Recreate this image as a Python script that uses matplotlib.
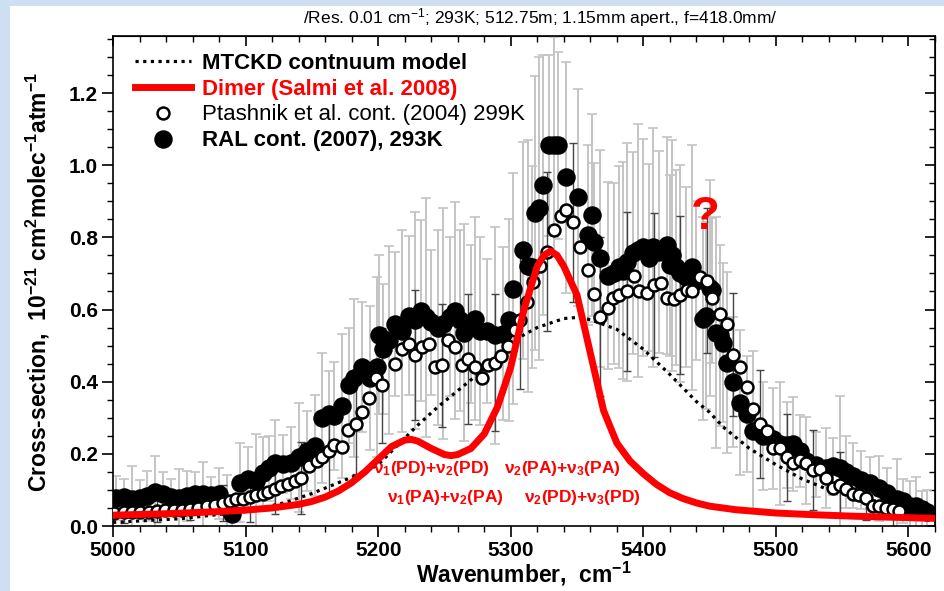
import matplotlib
matplotlib.use("Agg")
import matplotlib.pyplot as plt
from matplotlib.patches import Rectangle
from matplotlib.lines import Line2D
from matplotlib.ticker import MultipleLocator

plt.rcParams["font.family"] = ["Liberation Sans", "DejaVu Sans"]
plt.rcParams["mathtext.fontset"] = "custom"
plt.rcParams["mathtext.rm"] = "Liberation Sans"
plt.rcParams["mathtext.bf"] = "Liberation Sans:bold"
plt.rcParams["mathtext.it"] = "Liberation Sans:italic"

# MTCKD continuum model (dotted)
mtckd_wn = [5000, 5050, 5100, 5130, 5150, 5170, 5190, 5200, 5215, 5230, 5245,
            5260, 5280, 5300, 5320, 5340, 5350, 5360, 5380, 5400, 5420, 5440,
            5450, 5460, 5480, 5500, 5520, 5540, 5560, 5580, 5600, 5620]
mtckd_val = [0.010, 0.020, 0.040, 0.065, 0.090, 0.120, 0.150, 0.170, 0.225, 0.280, 0.330,
             0.375, 0.435, 0.510, 0.550, 0.575, 0.578, 0.572, 0.545, 0.490, 0.420, 0.345,
             0.315, 0.275, 0.215, 0.170, 0.130, 0.100, 0.080, 0.065, 0.050, 0.040]

# Dimer (Salmi et al. 2008)
dimer_wn = [5000, 5020, 5040, 5060, 5080, 5100, 5120, 5140, 5150, 5160, 5170, 5180,
            5190, 5200, 5210, 5220, 5225, 5230, 5240, 5250, 5255, 5260, 5270, 5280,
            5290, 5300, 5310, 5320, 5325, 5330, 5335, 5340, 5350, 5360, 5370, 5380,
            5390, 5400, 5410, 5420, 5430, 5440, 5450, 5470, 5500, 5530, 5560, 5590, 5620]
dimer_val = [0.030, 0.032, 0.034, 0.037, 0.040, 0.044, 0.050, 0.060, 0.068, 0.080, 0.097, 0.120,
             0.150, 0.185, 0.220, 0.238, 0.240, 0.235, 0.215, 0.198, 0.195, 0.198, 0.215, 0.255,
             0.330, 0.440, 0.600, 0.720, 0.750, 0.762, 0.750, 0.720, 0.640, 0.480, 0.320, 0.230,
             0.180, 0.145, 0.115, 0.092, 0.076, 0.064, 0.055, 0.045, 0.036, 0.031, 0.027, 0.024, 0.021]

# Ptashnik et al. (2004) 299K
pt_wn = [5001, 5008, 5014, 5020, 5027, 5033, 5039, 5046, 5052, 5058,
         5064, 5071, 5077, 5083, 5088, 5093, 5098, 5103, 5108, 5113,
         5117, 5122, 5127, 5132, 5137, 5142, 5148, 5154, 5158, 5163,
         5167, 5173, 5177, 5183, 5188, 5193, 5198, 5203, 5213, 5218,
         5223, 5228, 5233, 5238, 5243, 5248, 5253, 5258, 5263, 5268,
         5273, 5278, 5283, 5288, 5293, 5298, 5303, 5307, 5312, 5317,
         5322, 5327, 5333, 5338, 5342, 5347, 5352, 5358, 5363, 5367,
         5373, 5377, 5382, 5388, 5393, 5397, 5403, 5408, 5413, 5418,
         5423, 5428, 5433, 5437, 5443, 5448, 5452, 5458, 5463, 5468,
         5473, 5478, 5483, 5488, 5493, 5498, 5503, 5508, 5513, 5518,
         5523, 5528, 5533, 5538, 5543, 5548, 5553, 5558, 5563, 5568,
         5573, 5578, 5583, 5588, 5593]
pt_val = [0.036, 0.039, 0.040, 0.040, 0.040, 0.042, 0.043, 0.044, 0.045, 0.048,
          0.050, 0.055, 0.057, 0.063, 0.068, 0.075, 0.075, 0.080, 0.085, 0.088,
          0.095, 0.103, 0.110, 0.117, 0.125, 0.133, 0.167, 0.181, 0.190, 0.208,
          0.225, 0.220, 0.265, 0.283, 0.315, 0.355, 0.410, 0.390, 0.450, 0.490,
          0.505, 0.475, 0.495, 0.505, 0.440, 0.445, 0.516, 0.495, 0.445, 0.463,
          0.440, 0.410, 0.445, 0.452, 0.472, 0.500, 0.544, 0.570, 0.620, 0.675,
          0.720, 0.760, 0.820, 0.858, 0.877, 0.842, 0.772, 0.710, 0.644, 0.580,
          0.605, 0.633, 0.640, 0.650, 0.694, 0.650, 0.646, 0.667, 0.674, 0.633,
          0.630, 0.640, 0.655, 0.650, 0.690, 0.680, 0.633, 0.588, 0.560, 0.475,
          0.440, 0.386, 0.325, 0.283, 0.264, 0.217, 0.217, 0.190, 0.175, 0.183,
          0.175, 0.155, 0.158, 0.133, 0.106, 0.114, 0.102, 0.089, 0.086, 0.078,
          0.056, 0.056, 0.050, 0.047, 0.042]
pt_err = [0.03, 0.03, 0.04, 0.03, 0.04, 0.03, 0.04, 0.03, 0.04, 0.03,
          0.04, 0.04, 0.05, 0.05, 0.06, 0.05, 0.06, 0.07, 0.06, 0.07,
          0.08, 0.07, 0.08, 0.09, 0.08, 0.10, 0.09, 0.11, 0.10, 0.12,
          0.12, 0.13, 0.12, 0.14, 0.13, 0.15, 0.14, 0.16, 0.15, 0.17,
          0.16, 0.18, 0.17, 0.16, 0.18, 0.17, 0.19, 0.18, 0.17, 0.18,
          0.19, 0.18, 0.20, 0.19, 0.18, 0.20, 0.21, 0.19, 0.22, 0.20,
          0.21, 0.22, 0.20, 0.23, 0.21, 0.22, 0.20, 0.21, 0.19, 0.22,
          0.20, 0.21, 0.19, 0.22, 0.20, 0.21, 0.23, 0.20, 0.22, 0.21,
          0.20, 0.22, 0.21, 0.19, 0.22, 0.20, 0.21, 0.18, 0.20, 0.17,
          0.18, 0.16, 0.17, 0.15, 0.14, 0.13, 0.14, 0.12, 0.11, 0.12,
          0.10, 0.11, 0.09, 0.10, 0.08, 0.09, 0.08, 0.07, 0.08, 0.06,
          0.06, 0.05, 0.06, 0.05, 0.05]

# RAL (2007) 293K
ral_wn = [5002, 5008, 5014, 5020, 5026, 5032, 5038, 5044, 5050, 5056,
          5062, 5068, 5074, 5080, 5086, 5090, 5096, 5102, 5108, 5113,
          5118, 5122, 5128, 5134, 5140, 5146, 5152, 5158, 5163, 5167,
          5173, 5178, 5182, 5188, 5194, 5199, 5201, 5204, 5208, 5213,
          5218, 5223, 5228, 5232, 5236, 5240, 5245, 5249, 5254, 5258,
          5262, 5265, 5270, 5273, 5277, 5282, 5288, 5294, 5299, 5302,
          5309, 5313, 5316, 5318, 5321, 5324, 5329, 5333, 5336, 5342,
          5351, 5358, 5361, 5363, 5367, 5373, 5378, 5382, 5385, 5388,
          5392, 5396, 5400, 5404, 5407, 5412, 5418, 5420, 5422, 5425,
          5428, 5432, 5437, 5440, 5445, 5447, 5450, 5452, 5455, 5458,
          5460, 5463, 5468, 5473, 5478, 5483, 5490, 5498, 5503, 5508,
          5513, 5518, 5523, 5530, 5538, 5543, 5548, 5553, 5558, 5564,
          5571, 5578, 5584, 5591, 5596, 5601, 5606, 5610, 5614]
ral_val = [0.078, 0.080, 0.075, 0.078, 0.083, 0.095, 0.090, 0.080, 0.078, 0.083,
           0.089, 0.088, 0.085, 0.090, 0.060, 0.033, 0.120, 0.130, 0.125, 0.147,
           0.160, 0.175, 0.172, 0.175, 0.190, 0.208, 0.222, 0.300, 0.310, 0.305,
           0.333, 0.390, 0.410, 0.440, 0.410, 0.440, 0.530, 0.490, 0.515, 0.560,
           0.540, 0.583, 0.570, 0.597, 0.578, 0.564, 0.550, 0.560, 0.580, 0.597,
           0.570, 0.536, 0.560, 0.575, 0.540, 0.540, 0.528, 0.533, 0.570, 0.658,
           0.764, 0.720, 0.717, 0.867, 0.880, 0.944, 1.055, 1.055, 1.055, 0.967,
           0.911, 0.806, 0.861, 0.786, 0.742, 0.694, 0.700, 0.717, 0.708, 0.731,
           0.756, 0.764, 0.772, 0.744, 0.772, 0.760, 0.778, 0.722, 0.750, 0.717,
           0.700, 0.690, 0.717, 0.680, 0.575, 0.583, 0.660, 0.653, 0.536, 0.528,
           0.508, 0.453, 0.400, 0.342, 0.311, 0.264, 0.250, 0.242, 0.228, 0.225,
           0.228, 0.208, 0.181, 0.170, 0.161, 0.165, 0.161, 0.150, 0.139, 0.128,
           0.120, 0.105, 0.092, 0.075, 0.069, 0.056, 0.056, 0.047, 0.040]
ral_err = [0.06, 0.05, 0.09, 0.05, 0.07, 0.10, 0.06, 0.05, 0.08, 0.07,
           0.06, 0.09, 0.05, 0.07, 0.08, 0.05, 0.11, 0.09, 0.13, 0.10,
           0.09, 0.12, 0.08, 0.10, 0.15, 0.11, 0.14, 0.18, 0.12, 0.15,
           0.20, 0.16, 0.22, 0.18, 0.20, 0.25, 0.22, 0.18, 0.26, 0.20,
           0.28, 0.22, 0.30, 0.25, 0.33, 0.20, 0.27, 0.32, 0.22, 0.30,
           0.25, 0.30, 0.22, 0.28, 0.26, 0.20, 0.30, 0.24, 0.28, 0.32,
           0.30, 0.35, 0.28, 0.38, 0.42, 0.36, 0.25, 0.30, 0.26, 0.32,
           0.30, 0.25, 0.28, 0.22, 0.30, 0.26, 0.25, 0.28, 0.30, 0.33,
           0.28, 0.35, 0.30, 0.26, 0.33, 0.28, 0.30, 0.25, 0.32, 0.27,
           0.30, 0.25, 0.34, 0.22, 0.28, 0.26, 0.30, 0.20, 0.32, 0.25,
           0.22, 0.25, 0.18, 0.20, 0.16, 0.22, 0.15, 0.14, 0.17, 0.12,
           0.13, 0.10, 0.12, 0.09, 0.11, 0.08, 0.20, 0.10, 0.09, 0.08,
           0.07, 0.09, 0.07, 0.11, 0.06, 0.07, 0.08, 0.05, 0.06]

band_labels = [r"ν$_\mathbf{1}$(PD)+ν$_\mathbf{2}$(PD)", r"ν$_\mathbf{2}$(PA)+ν$_\mathbf{3}$(PA)",
               r"ν$_\mathbf{1}$(PA)+ν$_\mathbf{2}$(PA)", r"ν$_\mathbf{2}$(PD)+ν$_\mathbf{3}$(PD)"]
band_pos = [(5240, 0.158), (5339, 0.158), (5251, 0.078), (5354, 0.078)]

W, H = 944, 591
fig = plt.figure(figsize=(W / 100, H / 100), dpi=100)
fig.patch.set_facecolor("#cddff1")
fig.add_artist(Rectangle((10 / W, 0), 1, 1 - 6 / H, transform=fig.transFigure,
                         facecolor="white", edgecolor="none", zorder=0))

ax = fig.add_axes([113 / W, 1 - 526 / H, 822 / W, 490 / H])

# error bars first
ax.errorbar(ral_wn, ral_val, yerr=ral_err, fmt="none", ecolor="#c4c4c4",
            elinewidth=1.4, capsize=3.5, capthick=1.2, zorder=1)
ax.errorbar(pt_wn, pt_val, yerr=pt_err, fmt="none", ecolor="#444444",
            elinewidth=1.0, capsize=3, capthick=1.0, errorevery=(1, 4), zorder=2)

ax.plot(mtckd_wn, mtckd_val, color="black", lw=2.3, ls=(0, (1, 1.4)),
        dash_capstyle="butt", zorder=3)
ax.plot(ral_wn, ral_val, "o", ms=12.3, color="black", mec="black", zorder=4)
ax.plot(pt_wn, pt_val, "o", ms=8.6, mfc="white", mec="black", mew=1.8, zorder=5)
ax.plot(dimer_wn, dimer_val, color="red", lw=5, solid_capstyle="butt", zorder=6)

for lab, (x, y) in zip(band_labels, band_pos):
    ax.text(x, y, lab, color="red", fontsize=12.5, fontweight="bold",
            ha="center", va="center", zorder=7)
ax.text(5447, 0.855, "?", color="red", fontsize=34, fontweight="bold",
        ha="center", va="center", zorder=7)

ax.set_xlim(5000, 5620)
ax.set_ylim(0, 1.358)
ax.xaxis.set_major_locator(MultipleLocator(100))
ax.xaxis.set_minor_locator(MultipleLocator(20))
ax.yaxis.set_major_locator(MultipleLocator(0.2))
ax.yaxis.set_minor_locator(MultipleLocator(0.05))
ax.yaxis.set_major_formatter(matplotlib.ticker.FormatStrFormatter("%.1f"))
ax.tick_params(which="major", direction="out", length=8, width=1.2,
               labelsize=15, pad=3)
ax.tick_params(which="minor", direction="out", length=4.5, width=1.0)
for t in ax.get_xticklabels() + ax.get_yticklabels():
    t.set_fontweight("bold")
for s in ax.spines.values():
    s.set_linewidth(1.2)

# mirrored inward ticks on top and right
top = ax.secondary_xaxis("top")
top.xaxis.set_major_locator(MultipleLocator(100))
top.xaxis.set_minor_locator(MultipleLocator(20))
top.tick_params(which="major", direction="in", length=7, width=1.2, labeltop=False)
top.tick_params(which="minor", direction="in", length=4.5, width=1.0)
right = ax.secondary_yaxis("right")
right.yaxis.set_major_locator(MultipleLocator(0.2))
right.yaxis.set_minor_locator(MultipleLocator(0.05))
right.tick_params(which="major", direction="in", length=7, width=1.2, labelright=False)
right.tick_params(which="minor", direction="in", length=4.5, width=1.0)

ax.set_xlabel(r"Wavenumber,  cm$^\mathbf{-1}$", fontsize=16.5, fontweight="bold",
              labelpad=0)
fig.text(38 / W, 1 - 282 / H,
         r"Cross-section,  10$^\mathbf{-21}$ cm$^\mathbf{2}$molec$^\mathbf{-1}$atm$^\mathbf{-1}$",
         rotation=90, fontsize=16.5, fontweight="bold", ha="center", va="center")
fig.text(540 / W, 1 - 18 / H,
         r"/Res. 0.01 cm$^{-1}$; 293K; 512.75m; 1.15mm apert., f=418.0mm/",
         fontsize=12.5, ha="center", va="center")

handles = [
    Line2D([], [], color="black", lw=2.3, ls=(0, (1, 1.4))),
    Line2D([], [], color="red", lw=5),
    Line2D([], [], ls="none", marker="o", ms=8.6, mfc="white", mec="black", mew=1.8),
    Line2D([], [], ls="none", marker="o", ms=12.3, color="black"),
]
labels = ["MTCKD contnuum model", "Dimer (Salmi et al. 2008)",
          "Ptashnik et al. cont. (2004) 299K", "RAL cont. (2007), 293K"]
leg = ax.legend(handles, labels, loc="upper left", bbox_to_anchor=(0.027, 0.966),
                frameon=False, fontsize=16, handlelength=2.5, handletextpad=0.5,
                labelspacing=0.22, borderpad=0, borderaxespad=0)
leg.set_zorder(8)
txt = leg.get_texts()
txt[0].set_fontweight("bold")
txt[1].set_fontweight("bold")
txt[1].set_color("red")
txt[3].set_fontweight("bold")

fig.savefig("out.png", dpi=100, facecolor=fig.get_facecolor())
